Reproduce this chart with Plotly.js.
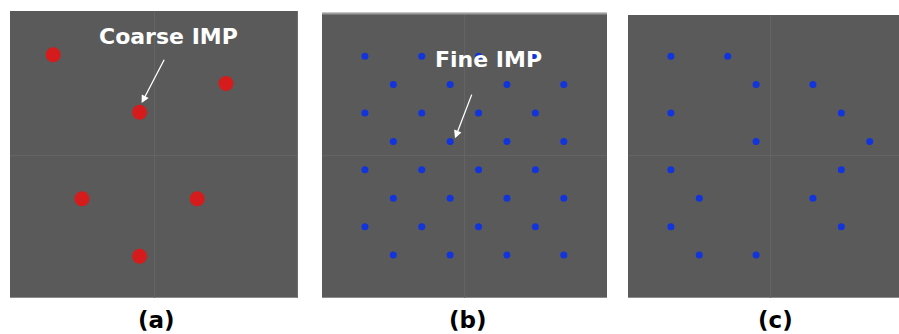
<!DOCTYPE html>
<html>
<head>
<meta charset="utf-8">
<script src="https://cdn.plot.ly/plotly-3.0.1.min.js"></script>
<style>html,body{margin:0;padding:0;background:#fff;}#chart{width:899px;height:334px;}</style>
</head>
<body>
<div id="chart"></div>
<script>
// Coarse IMP positions (panel a), in grid units
const coarseX = [-3.5, 2.5, -0.5, -2.5, 1.5, -0.5];
const coarseY = [3.5, 2.5, 1.5, -1.5, -1.5, -3.5];

// Fine IMP positions (panel b), staggered grid
const fineX = [-3.5, -1.5, 0.5, 2.5,
               -2.5, -0.5, 1.5, 3.5,
               -3.5, -1.5, 0.5, 2.5,
               -2.5, -0.5, 1.5, 3.5,
               -3.5, -1.5, 0.5, 2.5,
               -2.5, -0.5, 1.5, 3.5,
               -3.5, -1.5, 0.5, 2.5,
               -2.5, -0.5, 1.5, 3.5];
const fineY = [3.5, 3.5, 3.5, 3.5,
               2.5, 2.5, 2.5, 2.5,
               1.5, 1.5, 1.5, 1.5,
               0.5, 0.5, 0.5, 0.5,
               -0.5, -0.5, -0.5, -0.5,
               -1.5, -1.5, -1.5, -1.5,
               -2.5, -2.5, -2.5, -2.5,
               -3.5, -3.5, -3.5, -3.5];

// Selected positions (panel c)
const selX = [-3.5, -1.5, -0.5, 1.5, -3.5, 2.5, -0.5, 3.5, -3.5, 2.5, -2.5, 1.5, -3.5, 2.5, -2.5, -0.5];
const selY = [3.5, 3.5, 2.5, 2.5, 1.5, 1.5, 0.5, 0.5, -0.5, -0.5, -1.5, -1.5, -2.5, -2.5, -3.5, -3.5];

const panelLabels = ['(a)', '(b)', '(c)'];
const calloutLabels = ['Coarse IMP', 'Fine IMP'];

const red = '#d51b1b';
const blue = '#1234dc';
const bg = '#5a5a5a';

const traces = [
  {x: coarseX, y: coarseY, xaxis: 'x', yaxis: 'y', type: 'scatter', mode: 'markers',
   marker: {size: 15, color: red}, hoverinfo: 'skip'},
  {x: fineX, y: fineY, xaxis: 'x2', yaxis: 'y2', type: 'scatter', mode: 'markers',
   marker: {size: 7, color: blue}, hoverinfo: 'skip'},
  {x: selX, y: selY, xaxis: 'x3', yaxis: 'y3', type: 'scatter', mode: 'markers',
   marker: {size: 7, color: blue}, hoverinfo: 'skip'}
];

function ax(domain, range, anchor) {
  return {domain: domain, range: range, anchor: anchor, showgrid: false, zeroline: true,
          zerolinecolor: '#646464', zerolinewidth: 1, showticklabels: false, ticks: '',
          showline: false, fixedrange: true};
}
const bot = 1 - 297.7 / 334;

const layout = {
  width: 899, height: 334,
  margin: {l: 0, r: 0, t: 0, b: 0},
  paper_bgcolor: '#ffffff',
  plot_bgcolor: bg,
  showlegend: false,
  font: {family: 'DejaVu Sans, Arial, sans-serif'},
  xaxis: ax([10/899, 298/899], [-5, 5], 'y'),
  yaxis: ax([bot, 1 - 11/334], [-4.94, 5.02], 'x'),
  xaxis2: ax([322/899, 607/899], [-5.01, 5.02], 'y2'),
  yaxis2: ax([bot, 1 - 12.7/334], [-5.0, 5.03], 'x2'),
  xaxis3: ax([628/899, 1], [-5.01, 4.53], 'y3'),
  yaxis3: ax([bot, 1 - 15/334], [-5.0, 4.95], 'x3'),
  shapes: [
    {type: 'line', xref: 'x2', yref: 'y2', x0: -5.01, x1: 5.02, y0: 5.0, y1: 5.0,
     line: {color: '#9c9c9c', width: 2}},
    {type: 'line', xref: 'x', yref: 'y', x0: 4.98, x1: 4.98, y0: -4.94, y1: 5.02,
     line: {color: '#6e6e6e', width: 1}}
  ],
  annotations: [
    {xref: 'x', yref: 'y', x: 0.52, y: 4.12, text: '<b>' + calloutLabels[0] + '</b>', showarrow: false,
     font: {size: 22, color: '#ffffff', family: 'DejaVu Sans, Arial, sans-serif'}},
    {xref: 'x', yref: 'y', x: -0.43, y: 1.82, axref: 'x', ayref: 'y', ax: 0.38, ay: 3.38, text: '',
     showarrow: true, arrowhead: 2, arrowsize: 1.2, arrowwidth: 1.3, arrowcolor: '#ffffff'},
    {xref: 'x2', yref: 'y2', x: 0.85, y: 3.37, text: '<b>' + calloutLabels[1] + '</b>', showarrow: false,
     font: {size: 22, color: '#ffffff', family: 'DejaVu Sans, Arial, sans-serif'}},
    {xref: 'x2', yref: 'y2', x: -0.33, y: 0.61, axref: 'x2', ayref: 'y2', ax: 0.28, ay: 2.2, text: '',
     showarrow: true, arrowhead: 2, arrowsize: 1.2, arrowwidth: 1.3, arrowcolor: '#ffffff'},
    {xref: 'paper', yref: 'paper', x: 156.7/899, y: 0, xanchor: 'center', yanchor: 'bottom', borderpad: 0, text: '<b>' + panelLabels[0] + '</b>',
     showarrow: false, font: {size: 23, color: '#000000'}},
    {xref: 'paper', yref: 'paper', x: 467.5/899, y: 0, xanchor: 'center', yanchor: 'bottom', borderpad: 0, text: '<b>' + panelLabels[1] + '</b>',
     showarrow: false, font: {size: 23, color: '#000000'}},
    {xref: 'paper', yref: 'paper', x: 775.8/899, y: 0, xanchor: 'center', yanchor: 'bottom', borderpad: 0, text: '<b>' + panelLabels[2] + '</b>',
     showarrow: false, font: {size: 23, color: '#000000'}}
  ]
};

Plotly.newPlot('chart', traces, layout, {staticPlot: true, displayModeBar: false});
</script>
</body>
</html>
